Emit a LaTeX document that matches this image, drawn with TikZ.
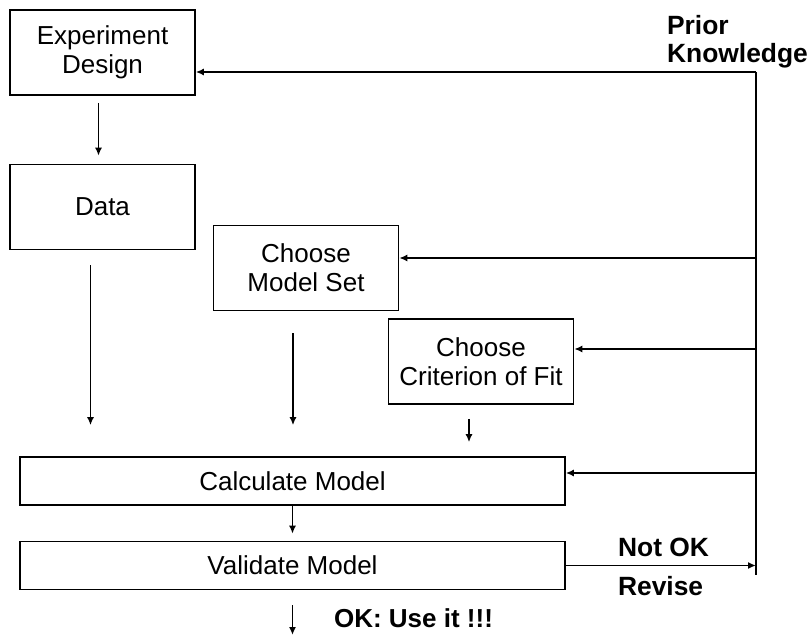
\documentclass[tikz,border=0pt]{standalone}
\usepackage{fontspec}
\setmainfont{Liberation Sans}
\usetikzlibrary{arrows.meta}

\begin{document}
\begin{tikzpicture}[x=0.5pt,y=-0.5pt,
    font=\fontsize{13}{14.5}\selectfont,
    box/.style={draw,line width=0.8pt,align=center,inner sep=0pt,minimum width=92.5pt,minimum height=42.5pt},
    wide/.style={box,minimum width=272.5pt,minimum height=24pt},
    arr/.style={-{Latex[length=4pt,width=3.5pt]},line width=0.8pt},
    lbl/.style={font=\fontsize{13.2}{14}\selectfont\bfseries,anchor=west,align=left}]

    \useasboundingbox (0,0) rectangle (811,637);

    \node[box] (design)    at (102.5,52.5) {Experiment\\Design};
    \node[box] (data)      at (102.5,207)  {Data};
    \node[box] (modelset)  at (306,268)    {Choose\\Model Set};
    \node[box] (criterion) at (481,361.5)  {Choose\\Criterion of Fit};
    \node[wide] (calc)     at (292.5,481)  {Calculate Model};
    \node[wide] (valid)    at (292.5,565.5) {Validate Model};

    \node[lbl] (prior) at (660,42)  {Prior\\Knowledge};
    \node[lbl] (notok) at (611,547) {Not OK};
    \node[lbl] (revise) at (611,586) {Revise};
    \node[lbl,font=\fontsize{13}{14}\selectfont\bfseries] (ok) at (327,618) {OK: Use it !!!};

    \coordinate (pk)    at (756,72);
    \coordinate (pkend) at (756,575);
    \coordinate (k1)    at (756,258);
    \coordinate (k2)    at (756,349);
    \coordinate (k3)    at (756,473);
    \coordinate (out)   at (292.5,635);

    \draw[line width=0.8pt] (pk) -- (pkend);
    \draw[arr] (pk) -- (pk -| design.east);
    \draw[arr] (k1) -- (k1 -| modelset.east);
    \draw[arr] (k2) -- (k2 -| criterion.east);
    \draw[arr] (k3) -- (k3 -| calc.east);
    \draw[arr] (valid.east) -- (valid.east -| pk);

    \draw[arr,shorten <=3.5pt,shorten >=4pt] ([xshift=-2pt]design.south) -- ([xshift=-2pt]data.north);
    \draw[arr,shorten <=7.5pt,shorten >=15.5pt] ([xshift=-6pt]data.south) -- ([xshift=-6pt]data.south |- calc.north);
    \draw[arr,shorten <=11pt,shorten >=15.5pt] ([xshift=-6.5pt]modelset.south) -- ([xshift=-6.5pt]modelset.south |- calc.north);
    \draw[arr,shorten <=7pt,shorten >=7pt] ([xshift=-6pt]criterion.south) -- ([xshift=-6pt]criterion.south |- calc.north);
    \draw[arr,shorten >=3.5pt] (calc.south) -- (valid.north);
    \draw[arr,shorten <=7.5pt] (valid.south) -- (out);

\end{tikzpicture}
\end{document}
